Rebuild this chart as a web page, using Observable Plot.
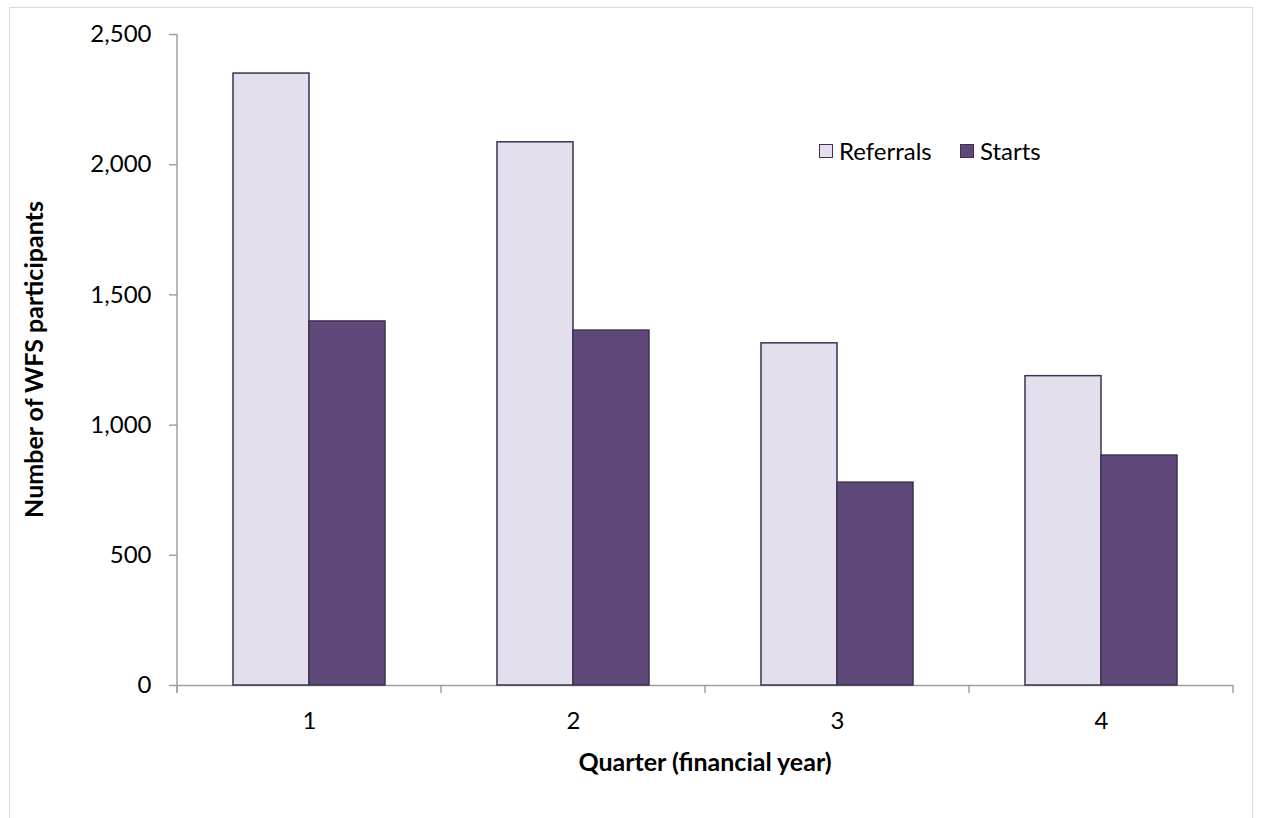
<!DOCTYPE html>
<html><head><meta charset="utf-8">
<script src="https://cdn.jsdelivr.net/npm/d3@7"></script>
<script src="https://cdn.jsdelivr.net/npm/@observablehq/plot@0.6"></script>
<style>
body{margin:0;background:#fff;font-family:Lato,"Open Sans",sans-serif;}
#wrap{position:relative;width:1261px;height:818px;overflow:hidden;background:#fff;}
#border{position:absolute;left:9px;top:7px;width:1244px;height:840px;border:1px solid #d9d9d9;box-sizing:border-box;}
#chart{position:absolute;left:0;top:0;}
.lg{position:absolute;display:flex;align-items:center;font-size:24px;color:#000;line-height:1;}
.sw{width:12px;height:12px;border:1.5px solid #3f3151;margin-right:6px;}
</style></head>
<body><div id="wrap"><div id="border"></div><div id="chart"></div><div id="legend"></div></div>
<script>
const quarters = ["1", "2", "3", "4"];
const series = ["Referrals", "Starts"];
const referrals = [2350, 2086, 1314, 1188];
const starts = [1398, 1363, 779, 883];
const yTicks = [0, 500, 1000, 1500, 2000, 2500];
const colors = ["#e4dfec", "#5f497a"];
const yTitle = "Number of WFS participants";
const xTitle = "Quarter (financial year)";

const data = quarters.flatMap((q, i) => [
  {quarter: q, series: series[0], value: referrals[i]},
  {quarter: q, series: series[1], value: starts[i]}
]);

const FONT = "Lato, 'Open Sans', sans-serif";
const plot = Plot.plot({
  width: 1261, height: 818,
  marginLeft: 176, marginRight: 27, marginTop: 34, marginBottom: 133,
  style: {fontFamily: FONT, fontSize: "24px", color: "#000", background: "transparent", overflow: "visible"},
  fx: {domain: quarters, padding: 0, label: null, axis: null},
  x: {domain: series, paddingInner: 0, paddingOuter: 0.735, axis: null},
  y: {domain: [0, 2500]},
  color: {domain: series, range: colors},
  marks: [
    Plot.ruleY([0], {stroke: "#a0a0a0", strokeWidth: 1.5}),
    Plot.barY(data, {fx: "quarter", x: "series", y: "value", fill: "series", stroke: "#3f3151", strokeWidth: 1.5}),
    Plot.axisY(yTicks, {tickFormat: d3.format(","), tickSize: 8, tickPadding: 18, stroke: "#a0a0a0", strokeWidth: 1.5, label: null, fill: "#000"}),
    Plot.axisFx({anchor: "bottom", tickSize: 0, tickPadding: 26, label: null, fill: "#000"})
  ]
});
document.getElementById("chart").appendChild(plot);

// axis lines, category boundary ticks and titles, placed from Plot's own scales
const svg = d3.select(plot);
const fx = plot.scale("fx");
const ys = plot.scale("y");
const x0 = fx.apply(quarters[0]);
const y0 = ys.apply(0);
const yTop = ys.apply(2500);
const g = svg.append("g").attr("stroke", "#a0a0a0").attr("stroke-width", 1.5);
g.append("line").attr("x1", x0).attr("x2", x0).attr("y1", yTop).attr("y2", y0 + 8);
const bounds = quarters.map(q => fx.apply(q)).concat([fx.apply(quarters[quarters.length - 1]) + fx.bandwidth]);
bounds.forEach(b => g.append("line").attr("x1", b).attr("x2", b).attr("y1", y0).attr("y2", y0 + 8));
const xMid = (bounds[0] + bounds[bounds.length - 1]) / 2;
svg.append("text").attr("x", xMid).attr("y", y0 + 76).attr("text-anchor", "middle")
  .attr("dominant-baseline", "central").attr("font-weight", "bold").attr("font-size", 25).attr("font-family", FONT)
  .attr("fill", "#000").text(xTitle);
svg.append("text").attr("transform", `translate(33,${(y0 + yTop) / 2}) rotate(-90)`).attr("text-anchor", "middle")
  .attr("dominant-baseline", "central").attr("font-weight", "bold").attr("font-size", 25).attr("font-family", FONT)
  .attr("fill", "#000").text(yTitle);

// legend
const legend = document.getElementById("legend");
const legendPos = [819, 960];
series.forEach((s, i) => {
  const d = document.createElement("div");
  d.className = "lg";
  d.style.left = legendPos[i] + "px";
  d.style.top = "139px";
  d.innerHTML = `<span class="sw" style="background:${colors[i]}"></span><span>${s}</span>`;
  legend.appendChild(d);
});
</script>
</body></html>
